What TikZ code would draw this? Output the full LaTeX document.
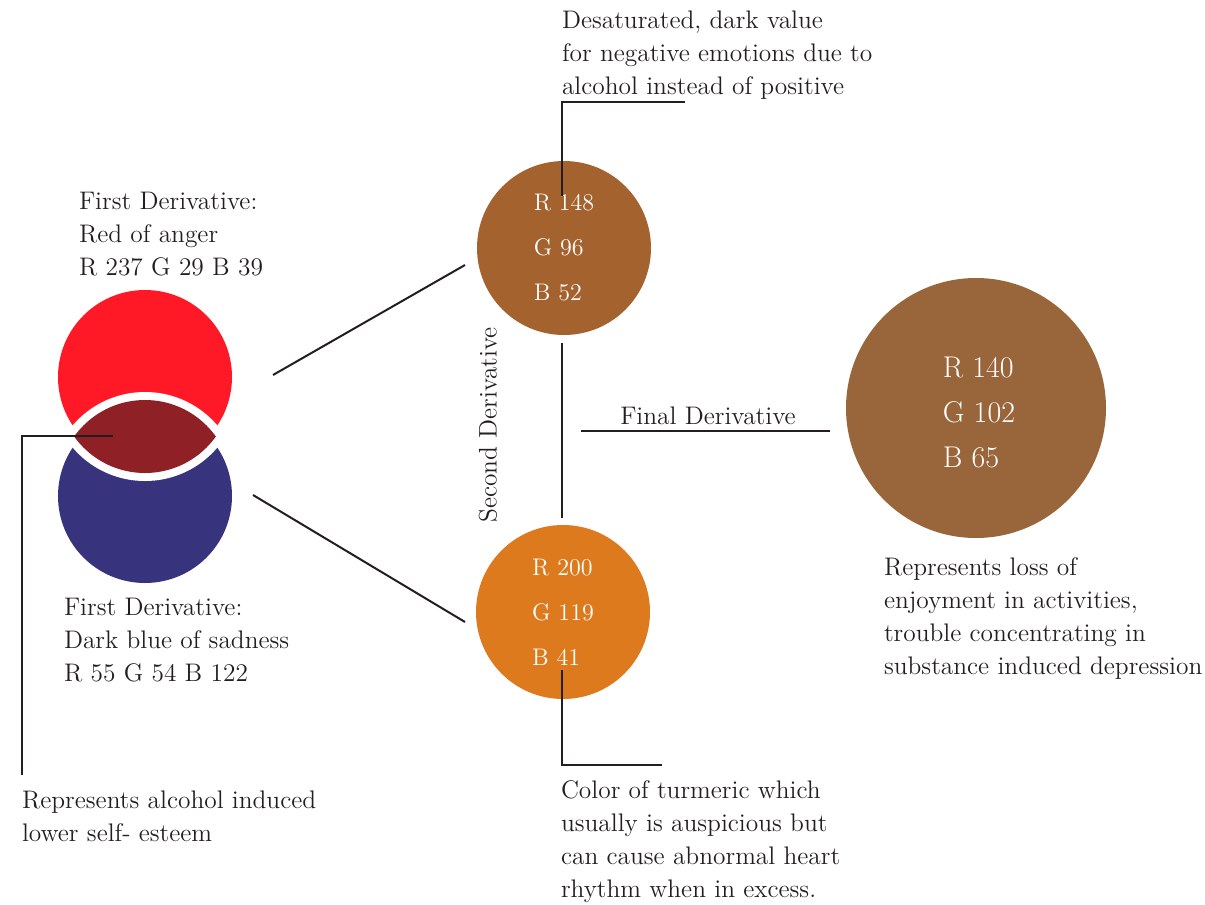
\documentclass[tikz,border=0pt]{standalone}
\usepackage{tikz}
\usetikzlibrary{positioning, calc}

\definecolor{angerred}{RGB}{255,25,38}
\definecolor{sadblue}{RGB}{55,52,125}
\definecolor{lensred}{RGB}{142,32,38}
\definecolor{darkbrown}{RGB}{163,98,46}
\definecolor{turmeric}{RGB}{221,122,29}
\definecolor{finalbrown}{RGB}{153,102,59}
\definecolor{ink}{RGB}{35,31,32}

\begin{document}
\begin{tikzpicture}[x=0.5pt, y=0.5pt, every node/.style={outer sep=0pt, inner sep=0pt, text=ink, font=\fontsize{12.7}{16.5}\selectfont}]

\tikzstyle{swatch}=[circle, minimum size=87pt, text=white, align=left, font=\fontsize{12}{22.5}\selectfont]
\tikzstyle{bigswatch}=[circle, minimum size=130pt, text=white, align=left, font=\fontsize{15}{22.5}\selectfont]
\tikzstyle{note}=[align=left, anchor=north west]
\tikzstyle{leader}=[draw=ink, line width=1pt]

\useasboundingbox (0,0) rectangle (1205,-905);

% first derivatives
\node (anger) [swatch, fill=angerred] at (145,-377) {};
\node (sadness) [swatch, fill=sadblue] at (145,-496) {};

% overlap, cut out with a white rim
\begin{scope}
\clip (145,-386) circle (95);
\fill[white] (145,-487) circle (95);
\end{scope}
\begin{scope}
\clip (145,-386) circle (87);
\fill[lensred] (145,-487) circle (87);
\end{scope}
\coordinate (lens) at (113,-436);

% second and final derivatives
\node (brown) [swatch, fill=darkbrown] at (564,-248) {R 148\\G 96\\B 52};
\node (orange) [swatch, fill=turmeric] at (563,-612) {R 200\\G 119\\B 41};
\node (final) [bigswatch, fill=finalbrown] at (976,-408) {};
\node (finalRGB) [text=white, align=left, font=\fontsize{15}{22.5}\selectfont] at (979,-412) {R 140\\G 102\\B 65};

\node (angerNote) [note] at (79,-192) {First Derivative:\\Red of anger\\R 237 G 29 B 39};
\node (sadNote) [note] at (64,-598) {First Derivative:\\Dark blue of sadness\\R 55 G 54 B 122};
\node (alcoholNote) [note] at (22,-791) {Represents alcohol induced\\lower self- esteem};
\node (brownNote) [note] at (562,-11) {Desaturated, dark value\\for negative emotions due to\\alcohol instead of positive};
\node (orangeNote) [note] at (561,-781) {Color of turmeric which\\usually is auspicious but\\can cause abnormal heart\\rhythm when in excess.};
\node (finalNote) [note] at (884,-558) {Represents loss of\\enjoyment in activities,\\trouble concentrating in\\substance induced depression};

\node (second) [rotate=90] at (488,-425) {Second Derivative};
\node (finalLabel) at (708,-416) {Final Derivative};

% connectors
\coordinate (angerOut) at (273,-375);
\coordinate (brownIn) at (465,-265);
\coordinate (sadOut) at (253,-495);
\coordinate (orangeIn) at (465,-622);
\coordinate (brownDown) at (562,-343);
\coordinate (orangeUp) at (562,-518);
\coordinate (finalFrom) at (581,-431);
\coordinate (finalTo) at (830,-431);

\draw[leader] (angerOut) -- (brownIn);
\draw[leader] (sadOut) -- (orangeIn);
\draw[leader] (brownDown) -- (orangeUp);
\draw[leader] (finalFrom) -- (finalTo);

% callouts
\coordinate (brownTip) at (562,-196);
\coordinate (brownEnd) at (685,-102);
\coordinate (orangeTip) at (562,-670);
\coordinate (orangeEnd) at (662,-765);
\coordinate (alcoholEnd) at (22,-775);

\draw[leader] (brownTip) |- (brownEnd);
\draw[leader] (orangeTip) |- (orangeEnd);
\draw[leader] (lens) -| (alcoholEnd);

\end{tikzpicture}
\end{document}
